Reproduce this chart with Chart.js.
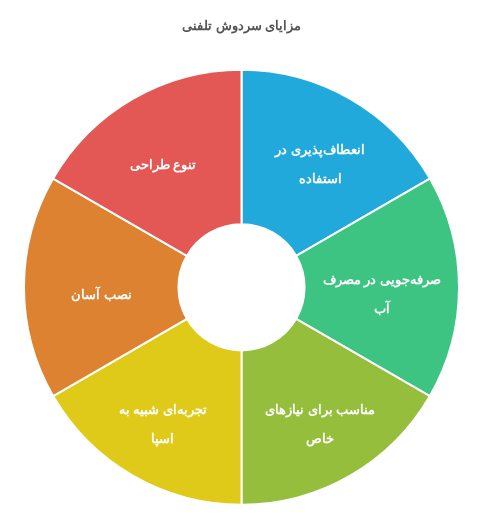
<!DOCTYPE html>
<html><head><meta charset="utf-8">
<script src="https://cdn.jsdelivr.net/npm/chart.js@4"></script>
<style>html,body{margin:0;padding:0;background:#fff;}#wrap{width:480px;height:532px;}</style>
</head><body><div id="wrap"><canvas id="c"></canvas></div>
<script>
const titleText = "مزایای سردوش تلفنی";
const categories = [
  ["انعطاف‌پذیری در", "استفاده"],
  ["صرفه‌جویی در مصرف", "آب"],
  ["مناسب برای نیازهای", "خاص"],
  ["تجربه‌ای شبیه به", "اسپا"],
  ["نصب آسان"],
  ["تنوع طراحی"]
];
const values = [1, 1, 1, 1, 1, 1];
const colors = ["#21a9db", "#3ec482", "#94be3b", "#e0ca19", "#dd8230", "#e35755"];
const fontFamily = "'Helvetica Neue', 'Helvetica', 'Arial', sans-serif";

const labelPlugin = {
  id: 'sliceLabels',
  afterDatasetsDraw(chart) {
    const ctx = chart.ctx;
    const meta = chart.getDatasetMeta(0);
    ctx.save();
    ctx.fillStyle = '#ffffff';
    ctx.font = 'bold 13px ' + fontFamily;
    ctx.textAlign = 'center';
    ctx.textBaseline = 'middle';
    ctx.direction = 'rtl';
    meta.data.forEach((arc, i) => {
      const p = arc.getProps(['x','y','startAngle','endAngle','innerRadius','outerRadius'], true);
      const a = (p.startAngle + p.endAngle) / 2 + Math.PI / 2;
      const rMid = (p.innerRadius + p.outerRadius) / 2;
      const x = p.x + Math.sin(a) * rMid * (1 + 0.14 * Math.abs(Math.cos(a)));
      const y = p.y + 8 - Math.cos(a) * rMid * 1.07;
      const lines = categories[i];
      const lh = 29;
      const y0 = y - (lines.length - 1) * lh / 2;
      lines.forEach((t, k) => ctx.fillText(t, x, y0 + k * lh));
    });
    ctx.restore();
  }
};

new Chart(document.getElementById('c'), {
  type: 'doughnut',
  data: {
    labels: categories.map(l => l.join(' ')),
    datasets: [{
      data: values,
      backgroundColor: colors,
      borderColor: '#ffffff',
      borderWidth: 2
    }]
  },
  options: {
    responsive: true,
    maintainAspectRatio: false,
    animation: false,
    cutout: '29%',
    layout: { padding: { top: 8, left: 23, right: 20, bottom: 26 } },
    plugins: {
      legend: { display: false },
      tooltip: { enabled: false },
      title: {
        display: true,
        text: titleText,
        color: '#555555',
        font: { size: 13, weight: 'bold', family: fontFamily },
        padding: { top: 11, bottom: 34 }
      }
    }
  },
  plugins: [labelPlugin]
});
</script>
</body></html>
